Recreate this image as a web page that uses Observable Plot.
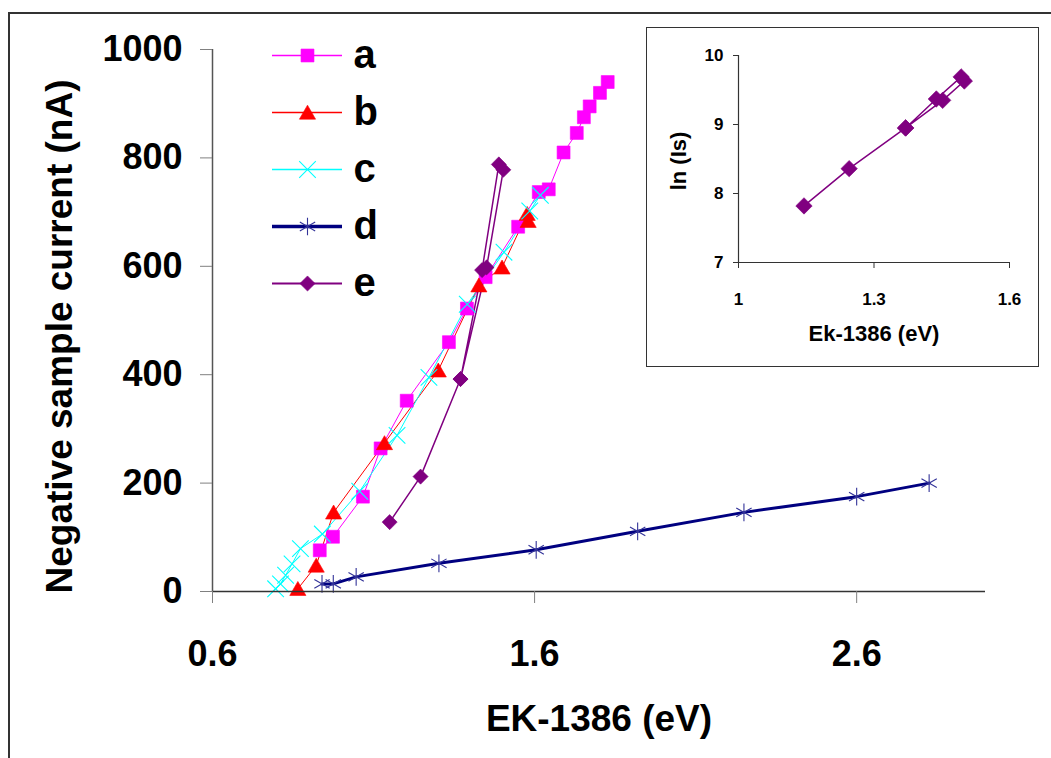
<!DOCTYPE html>
<html>
<head>
<meta charset="utf-8">
<script src="https://cdn.jsdelivr.net/npm/d3@7"></script>
<script src="https://cdn.jsdelivr.net/npm/@observablehq/plot@0.6"></script>
<style>
  html, body { margin: 0; padding: 0; background: #fff; }
  #wrap { position: relative; width: 1051px; height: 758px; overflow: hidden; background: #fff; font-family: "Liberation Sans", Arial, sans-serif; }
  #main { position: absolute; left: 0; top: 0; }
  #legend { position: absolute; left: 260px; top: 20px; }
  #inset { position: absolute; left: 645.5px; top: 26.5px; border: 1.5px solid #333; background: #fff; line-height: 0; }
  #frame { position: absolute; left: 7.5px; top: 11.5px; width: 1200px; height: 900px; border: 2px solid #333; pointer-events: none; }
  svg { overflow: visible; }
</style>
</head>
<body>
<div id="wrap">
  <div id="main"></div>
  <div id="legend"></div>
  <div id="inset"></div>
  <div id="frame"></div>
</div>
<script>
// ---------------- data ----------------
const seriesNames = ["a", "b", "c", "d", "e"];

const aX = [0.933, 0.974, 1.067, 1.122, 1.203, 1.334, 1.390, 1.448, 1.549, 1.613, 1.644, 1.690, 1.731, 1.753, 1.771, 1.803, 1.827];
const aY = [76, 101, 175, 264, 352, 460, 522, 580, 673, 737, 742, 810, 846, 875, 895, 920, 940];

const bX = [0.865, 0.922, 0.976, 1.134, 1.301, 1.427, 1.499, 1.577, 1.580];
const bY = [5, 48, 146, 274, 408, 565, 598, 697, 684];

const cX = [0.796, 0.811, 0.827, 0.847, 0.873, 0.941, 1.057, 1.173, 1.272, 1.391, 1.505, 1.585, 1.618];
const cY = [5, 14, 30, 51, 79, 106, 185, 288, 395, 530, 626, 702, 731];

const dX = [0.940, 0.975, 1.046, 1.303, 1.605, 1.920, 2.250, 2.600, 2.825];
const dY = [14, 14, 27, 52, 77, 111, 146, 175, 200];

const eX = [1.150, 1.246, 1.370, 1.437, 1.489, 1.503, 1.451, 1.370];
const eY = [128, 212, 392, 593, 788, 778, 598, 392];

// inset: ln(Is) vs Ek-1386
const insetX = [1.145, 1.245, 1.370, 1.438, 1.493, 1.500, 1.452, 1.370];
const insetY = [7.82, 8.36, 8.95, 9.37, 9.69, 9.63, 9.35, 8.95];

// tick labels
const xTicks = [0.6, 1.6, 2.6];
const yTicks = [0, 200, 400, 600, 800, 1000];
const insetXTicks = [1, 1.3, 1.6];
const insetYTicks = [7, 8, 9, 10];

const xTitle = "EK-1386 (eV)";
const yTitle = "Negative sample current (nA)";
const insetXTitle = "Ek-1386 (eV)";
const insetYTitle = "ln (Is)";

// ---------------- styles ----------------
const FONT = "Liberation Sans, Arial, sans-serif";
const styles = {
  a: {color: "#FF00FF", marker: "#FF00FF", symbol: "square",   r: 7.3, filled: true,  width: 1,   dy: 0},
  b: {color: "#FF0000", marker: "#FF0000", symbol: "triangle", r: 6.0, filled: true,  width: 1,   dy: 2},
  c: {color: "#00FFFF", marker: "#00FFFF", symbol: "times",    r: 7.6, filled: false, width: 1,   dy: 0},
  d: {color: "#000080", marker: "#333399", symbol: "asterisk", r: 8.4, filled: false, width: 3,   dy: 0},
  e: {color: "#800080", marker: "#800080", symbol: "diamond2", r: 6.8, filled: true,  width: 1.5, dy: 0}
};

const raw = {a: [aX, aY], b: [bX, bY], c: [cX, cY], d: [dX, dY], e: [eX, eY]};
const rows = seriesNames.flatMap(s => raw[s][0].map((x, i) => ({series: s, x, y: raw[s][1][i]})));
const insetRows = insetX.map((x, i) => ({x, y: insetY[i]}));

function seriesLine(s, data) {
  const st = styles[s];
  return Plot.line(data, {x: "x", y: "y", stroke: st.color, strokeWidth: st.width, curve: "linear"});
}
function seriesDots(s, data) {
  const st = styles[s];
  return Plot.dot(data, {
    x: "x", y: "y", symbol: st.symbol, r: st.r, dy: st.dy,
    fill: st.filled ? st.marker : "none",
    stroke: st.marker, strokeWidth: st.filled ? 0.6 : 1.1
  });
}

// ---------------- main chart ----------------
const main = Plot.plot({
  width: 1051,
  height: 758,
  marginLeft: 212,
  marginRight: 66,
  marginTop: 49,
  marginBottom: 167,
  style: {fontFamily: FONT, fontWeight: "bold", background: "transparent", color: "#000"},
  x: {domain: [0.6, 3.0], axis: null},
  y: {domain: [0, 1000], axis: null},
  marks: [
    ...seriesNames.map(s => seriesLine(s, rows.filter(d => d.series === s))),
    ...seriesNames.map(s => seriesDots(s, rows.filter(d => d.series === s))),
    Plot.ruleY([0], {stroke: "#333", strokeWidth: 1.5}),
    Plot.ruleX([0.6], {y1: 0, y2: 1000, stroke: "#555", strokeWidth: 1.5}),
    Plot.axisX(xTicks, {tickSize: 12, tickPadding: 37, tickFormat: d => String(d), fontSize: 36, fontWeight: "bold", stroke: "#808080", fill: "#000", label: null}),
    Plot.axisY(yTicks, {tickSize: 12, tickPadding: 18, tickFormat: d => String(d), fontSize: 36, fontWeight: "bold", stroke: "#808080", fill: "#000", label: null}),
    Plot.text([xTitle], {frameAnchor: "bottom", textAnchor: "middle", dy: 139, fontSize: 37, fontWeight: "bold", fill: "#000"}),
    Plot.text([yTitle], {frameAnchor: "left", textAnchor: "middle", rotate: -90, dx: -152, dy: 16, fontSize: 37, fontWeight: "bold", fill: "#000"})
  ]
});
document.getElementById("main").appendChild(main);

// ---------------- legend ----------------
const legend = Plot.plot({
  width: 140,
  height: 290,
  margin: 0,
  style: {fontFamily: FONT, fontWeight: "bold", background: "transparent", color: "#000"},
  x: {domain: [0, 1], range: [12, 82], axis: null},
  y: {domain: seriesNames, type: "point", padding: 0, range: [34, 263], axis: null},
  marks: [
    ...seriesNames.map(s => Plot.ruleY([s], {y: d => d, x1: 0, x2: 1, stroke: styles[s].color, strokeWidth: styles[s].width + 0.5})),
    ...seriesNames.map(s => seriesDots(s, [{x: 0.5, y: s}])),
    Plot.text(seriesNames, {x: 1, y: d => d, text: d => d, dx: 11, textAnchor: "start", fontSize: 40, fontWeight: "bold", fill: "#000"})
  ]
});
document.getElementById("legend").appendChild(legend);

// ---------------- inset ----------------
const inset = Plot.plot({
  width: 391,
  height: 338,
  marginLeft: 91,
  marginRight: 29,
  marginTop: 27,
  marginBottom: 104,
  style: {fontFamily: FONT, fontWeight: "bold", background: "#fff", color: "#000"},
  x: {domain: [1, 1.6], axis: null},
  y: {domain: [7, 10], axis: null},
  marks: [
    Plot.line(insetRows, {x: "x", y: "y", stroke: "#800080", strokeWidth: 1.5}),
    Plot.dot(insetRows, {x: "x", y: "y", symbol: "diamond2", r: 7.4, fill: "#800080", stroke: "#800080", strokeWidth: 0.6}),
    Plot.ruleY([7], {stroke: "#333", strokeWidth: 1.2}),
    Plot.ruleX([1], {y1: 7, y2: 10, stroke: "#333", strokeWidth: 1.2}),
    Plot.axisX(insetXTicks, {tickSize: 6, tickPadding: 24, tickFormat: d => String(d), fontSize: 17, fontWeight: "bold", stroke: "#333", fill: "#000", label: null}),
    Plot.axisY(insetYTicks, {tickSize: 5, tickPadding: 10, tickFormat: d => String(d), fontSize: 17, fontWeight: "bold", stroke: "#333", fill: "#000", label: null}),
    Plot.text([insetXTitle], {frameAnchor: "bottom", textAnchor: "middle", dy: 78, fontSize: 22, fontWeight: "bold", fill: "#000"}),
    Plot.text([insetYTitle], {frameAnchor: "left", textAnchor: "middle", rotate: -90, dx: -60, dy: 2, fontSize: 22, fontWeight: "bold", fill: "#000"})
  ]
});
document.getElementById("inset").appendChild(inset);
</script>
</body>
</html>
